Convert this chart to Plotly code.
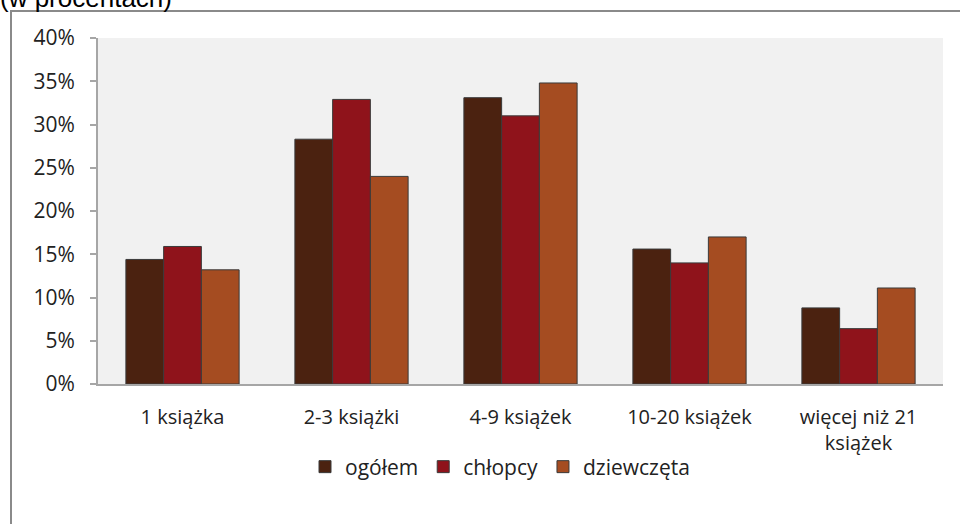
import plotly.graph_objects as go

categories = ["1 książka", "2-3 książki", "4-9 książek", "10-20 książek", "więcej niż 21<br>książek"]
ogolem = [14.4, 28.3, 33.1, 15.6, 8.8]
chlopcy = [15.9, 32.9, 31.0, 14.0, 6.4]
dziewczeta = [13.2, 24.0, 34.8, 17.0, 11.1]
series_names = ["ogółem", "chłopcy", "dziewczęta"]
colors = ["#4b2210", "#8f131b", "#a54c21"]
yticks = [0, 5, 10, 15, 20, 25, 30, 35, 40]

W, H = 960, 524
L, R, T, B = 98, 17, 38, 140
pw, ph = W - L - R, H - T - B

def px_x(p):
    return (p - L) / pw

def px_y(p):
    return (H - B - p) / ph

fig = go.Figure()
for name, vals, col in zip(series_names, [ogolem, chlopcy, dziewczeta], colors):
    fig.add_trace(go.Bar(x=categories, y=vals, name=name,
                         marker=dict(color=col, line=dict(color="#3a3a3a", width=1))))

font_fam = "'Open Sans', Lato, sans-serif"
fig.update_layout(
    width=W, height=H,
    margin=dict(l=L, r=R, t=T, b=B),
    paper_bgcolor="white",
    plot_bgcolor="#f1f1f1",
    barmode="group", bargap=0.33, bargroupgap=0,
    font=dict(family=font_fam, size=20, color="#222222"),
    showlegend=True,
    legend=dict(orientation="h", x=px_x(500), xanchor="center", y=px_y(467), yanchor="middle",
                font=dict(size=21, family=font_fam), itemwidth=30, traceorder="normal",
                bgcolor="rgba(0,0,0,0)"),
    xaxis=dict(showline=True, linecolor="#a6a6a6", linewidth=2, ticks="",
               ticklabelstandoff=14, tickfont=dict(size=20), fixedrange=True),
    yaxis=dict(range=[0, 40], tickvals=yticks, ticktext=[f"{v}%" for v in yticks],
               showgrid=False, zeroline=False, showline=True, linecolor="#a6a6a6", linewidth=2,
               ticks="outside", ticklen=6, tickcolor="#a6a6a6", tickwidth=2,
               ticklabelstandoff=11, tickfont=dict(size=21), fixedrange=True),
    shapes=[dict(type="rect", xref="paper", yref="paper",
                 x0=px_x(11), x1=px_x(1000), y0=px_y(600), y1=px_y(11),
                 line=dict(color="#8a8a8a", width=2), fillcolor="rgba(0,0,0,0)", layer="below")],
    annotations=[dict(text="(w procentach)", xref="paper", yref="paper",
                      x=px_x(-2), y=px_y(15), xanchor="left", yanchor="bottom",
                      showarrow=False, font=dict(family="Liberation Sans, Arial", size=26, color="#000"))],
)

fig.write_html("out.html", config={"displayModeBar": False},
               post_script="document.body.style.margin='0';document.body.style.overflow='hidden';")
